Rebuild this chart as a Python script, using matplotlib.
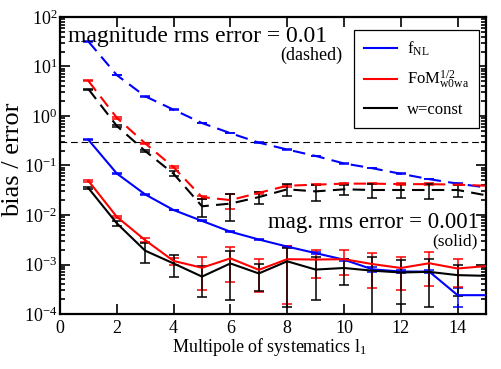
import numpy as np
import matplotlib
matplotlib.use("Agg")
import matplotlib.pyplot as plt
from matplotlib.lines import Line2D
from matplotlib.ticker import FixedLocator, NullFormatter, LogFormatterSciNotation

plt.rcParams['font.family'] = ['Liberation Serif', 'DejaVu Serif']
plt.rcParams['mathtext.fontset'] = 'custom'
plt.rcParams['mathtext.rm'] = 'Liberation Serif'
plt.rcParams['mathtext.it'] = 'Liberation Serif:italic'
plt.rcParams['mathtext.bf'] = 'Liberation Serif:bold'
plt.rcParams['axes.unicode_minus'] = False

# ---- data ----
multipole = [1, 2, 3, 4, 5, 6, 7, 8, 9, 10, 11, 12, 13, 14, 15]

# magnitude rms error = 0.001 (solid)
fnl_solid = [0.33, 0.069, 0.026, 0.0126, 0.0076, 0.0046, 0.0032, 0.0023, 0.0017, 0.00125,
             0.00080, 0.00072, 0.00072, 0.00024, 0.00024]
fnl_solid_err = [0.006, 0.0012, 0.0005, 0.0002, 0.00015, 0.0001, 0.00008, 0.00006, 0.00005, 0.00005,
                 0.00011, 0.00006, 0.00005, 0.0001, 0.0]
fom_solid = [0.049, 0.0092, 0.0031, 0.00118, 0.00086, 0.00133, 0.00078, 0.00128, 0.00126, 0.00128,
             0.00102, 0.00085, 0.00106, 0.00083, 0.00093]
fom_solid_err = [0.0015, 0.0005, 0.0003, 0.0002, 0.00056, 0.00089, 0.0005, 0.00112, 0.00072, 0.00068,
                 0.00068, 0.00055, 0.0007, 0.00048, 0.0]
w_solid = [0.035, 0.0068, 0.0019, 0.00105, 0.00057, 0.00105, 0.00066, 0.00116, 0.00079, 0.00085,
           0.00075, 0.00069, 0.00071, 0.00061, 0.00059]
w_solid_err = [0.001, 0.0009, 0.00085, 0.00048, 0.00035, 0.00086, 0.00037, 0.00102, 0.0006, 0.00047,
               0.00066, 0.00053, 0.00057, 0.00038, 0.0]

# magnitude rms error = 0.01 (dashed)
fnl_dashed = [32.0, 6.7, 2.5, 1.34, 0.72, 0.45, 0.29, 0.21, 0.156, 0.11,
              0.088, 0.068, 0.053, 0.043, 0.036]
fnl_dashed_err = [0.5, 0.1, 0.04, 0.02, 0.01, 0.006, 0.004, 0.003, 0.002, 0.0015,
                  0.001, 0.001, 0.0008, 0.0006, 0.0]
fom_dashed = [5.1, 0.92, 0.28, 0.092, 0.023, 0.020, 0.028, 0.039, 0.041, 0.043,
              0.043, 0.042, 0.042, 0.041, 0.039]
fom_dashed_err = [0.12, 0.03, 0.008, 0.004, 0.0015, 0.007, 0.0015, 0.0015, 0.0015, 0.0015,
                  0.0015, 0.0015, 0.0015, 0.0015, 0.0]
w_dashed = [3.5, 0.63, 0.196, 0.068, 0.015, 0.017, 0.023, 0.033, 0.030, 0.033,
            0.032, 0.032, 0.032, 0.032, 0.025]
w_dashed_err = [0.08, 0.02, 0.012, 0.008, 0.006, 0.0095, 0.0065, 0.009, 0.011, 0.0075,
                0.01, 0.01, 0.011, 0.009, 0.0]

threshold = 0.3

x_ticks = [0, 2, 4, 6, 8, 10, 12, 14]
y_ticks = [1e-4, 1e-3, 1e-2, 1e-1, 1e0, 1e1, 1e2]

legend_labels = [r'f$_{\mathrm{NL}}$', r'FoM$_{\mathrm{w0wa}}^{1/2}$', 'w=const']
colors = ['#0000ff', '#ff0000', '#000000']

# ---- figure ----
fig = plt.figure(figsize=(5.01, 3.69), dpi=100)
ax = fig.add_axes([60/501, 1-314/369, 426/501, 297/369])

ax.axhline(threshold, color='black', lw=0.8, dashes=(6, 3.5), zorder=1)

every = slice(0, 14)
series = [
    (fnl_dashed, fnl_dashed_err, colors[0], True),
    (fom_dashed, fom_dashed_err, colors[1], True),
    (w_dashed, w_dashed_err, colors[2], True),
    (fnl_solid, fnl_solid_err, colors[0], False),
    (fom_solid, fom_solid_err, colors[1], False),
    (w_solid, w_solid_err, colors[2], False),
]
for vals, errs, col, dashed in series:
    cont = ax.errorbar(multipole, vals, yerr=errs, color=col, lw=1.5, elinewidth=1.1,
                       capsize=3.5, capthick=1.1, errorevery=every, zorder=3)
    if dashed:
        cont[0].set_dashes((6, 3.5))

ax.set_yscale('log')
ax.set_xlim(0, 15)
ax.set_ylim(1e-4, 1e2)

minor_y = [m * d for d in y_ticks[:-1] for m in range(2, 10)]
ax.xaxis.set_major_locator(FixedLocator(x_ticks))
ax.yaxis.set_major_locator(FixedLocator(y_ticks))
ax.yaxis.set_major_formatter(LogFormatterSciNotation())
ax.yaxis.set_minor_locator(FixedLocator(minor_y))
ax.yaxis.set_minor_formatter(NullFormatter())

ax.tick_params(which='both', direction='in', top=True, right=True, width=1.2)
ax.tick_params(which='major', length=7, labelsize=13)
ax.tick_params(axis='x', which='major', pad=4)
ax.tick_params(axis='y', which='major', pad=2)
ax.tick_params(which='minor', length=3.5)
for sp in ax.spines.values():
    sp.set_linewidth(1.6)

ax.set_xlabel(r'Multipole of systematics l$_{\mathrm{1}}$', fontsize=13)
ax.xaxis.set_label_coords(0.493, -0.075)
ax.set_ylabel('bias / error', fontsize=19)
ax.yaxis.set_label_coords(-0.085, 0.52)

ax.text(0.019, 0.917, 'magnitude rms error = 0.01', transform=ax.transAxes,
        fontsize=17, ha='left', va='baseline')
ax.text(0.516, 0.855, '(dashed)', transform=ax.transAxes,
        fontsize=13, ha='left', va='baseline')
ax.text(0.983, 0.289, 'mag. rms error = 0.001', transform=ax.transAxes,
        fontsize=16.5, ha='right', va='baseline')
ax.text(0.98, 0.232, '(solid)', transform=ax.transAxes,
        fontsize=12.5, ha='right', va='baseline')

handles = [Line2D([], [], color=c, lw=1.5) for c in colors]
leg = ax.legend(handles, legend_labels, loc='upper right', bbox_to_anchor=(0.984, 0.956),
                borderaxespad=0, fontsize=12, handlelength=2.0, handletextpad=0.6,
                labelspacing=0.65, borderpad=0.6, fancybox=False, framealpha=1,
                edgecolor='black')
leg.get_frame().set_linewidth(0.9)

fig.savefig('out.png', dpi=100)
